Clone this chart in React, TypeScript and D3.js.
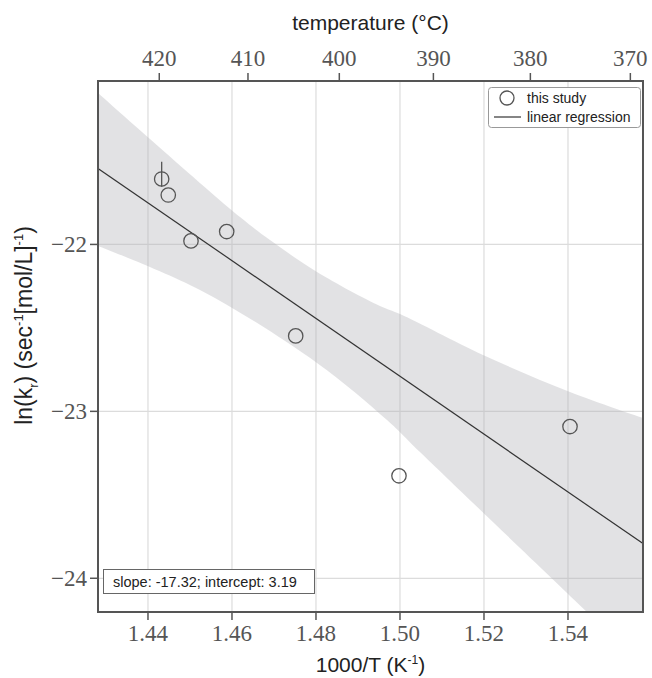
import React from "react";
import * as d3 from "d3";

// ---- data ----
const invT = [1.44326, 1.44483, 1.45024, 1.45874, 1.47517, 1.49976, 1.54048];
const lnk = [-21.608, -21.704, -21.979, -21.923, -22.548, -23.386, -23.091];

const errX = [1.44326];
const errTop = [-21.504];
const errBottom = [-21.655];

const slope = -17.32;
const intercept = 3.19;

const bandUpperX = [1.4281, 1.46191, 1.46905, 1.48024, 1.49524, 1.5, 1.51976, 1.54048, 1.55786];
const bandUpperY = [-21.093, -21.836, -21.974, -22.165, -22.369, -22.417, -22.662, -22.884, -23.04];
const bandLowerX = [1.4281, 1.45238, 1.48024, 1.49691, 1.50476, 1.54452, 1.55786];
const bandLowerY = [-22.009, -22.273, -22.71, -23.052, -23.244, -24.202, -24.526];

const xTicks = [1.44, 1.46, 1.48, 1.5, 1.52, 1.54];
const yTicks = [-22, -23, -24];
const tempTicks = [420, 410, 400, 390, 380, 370];

const xDomain = [1.4281, 1.55786];
const yDomain = [-21.021, -24.202];

export default function App() {
  const W = 652, H = 678;
  const L = 98, R = 643, T = 81, B = 612;
  const x = d3.scaleLinear().domain(xDomain).range([L, R]);
  const y = d3.scaleLinear().domain(yDomain).range([T, B]);

  const upper = bandUpperX.map((v, i) => [x(v), y(bandUpperY[i])] as [number, number]);
  const lower = bandLowerX.map((v, i) => [x(v), y(bandLowerY[i])] as [number, number]).reverse();
  const lineGen = d3.line().curve(d3.curveCatmullRom.alpha(0.5));
  const bandPath = (lineGen(upper) || "") + "L" + (lineGen(lower) || "").slice(1) + "Z";

  const regPath = d3.line()(
    xDomain.map((v) => [x(v), y(intercept + slope * v)] as [number, number])
  ) || "";

  const serif = "'Liberation Serif', 'Times New Roman', serif";
  const sans = "'Liberation Sans', Arial, Helvetica, sans-serif";
  const axisColor = "#555";
  const tickLabelColor = "#555";

  const fmtY = (v: number) => (v < 0 ? "\u2212" + Math.abs(v) : String(v));

  return (
    <svg width={W} height={H} style={{ position: "absolute", left: 0, top: 0, background: "#fff" }}>
      <defs>
        <clipPath id="plotClip">
          <rect x={L} y={T} width={R - L} height={B - T} />
        </clipPath>
      </defs>
      <rect x={0} y={0} width={W} height={H} fill="#fff" />

      {/* gridlines */}
      {xTicks.map((t) => (
        <line key={"gx" + t} x1={x(t)} x2={x(t)} y1={T} y2={B} stroke="#dcdcdc" strokeWidth={1.2} />
      ))}
      {yTicks.map((t) => (
        <line key={"gy" + t} x1={L} x2={R} y1={y(t)} y2={y(t)} stroke="#dcdcdc" strokeWidth={1.2} />
      ))}

      {/* confidence band */}
      <g clipPath="url(#plotClip)">
        <path d={bandPath} fill="rgb(178,178,184)" fillOpacity={0.38} stroke="none" />
        <path d={regPath} fill="none" stroke="#333" strokeWidth={1.2} />
      </g>

      {/* error bar */}
      {errX.map((v, i) => (
        <line key={"e" + i} x1={x(v)} x2={x(v)} y1={y(errTop[i])} y2={y(errBottom[i])} stroke="#555" strokeWidth={1.3} />
      ))}

      {/* data points */}
      {invT.map((v, i) => (
        <circle key={"p" + i} cx={x(v)} cy={y(lnk[i])} r={7.2} fill="none" stroke="#555" strokeWidth={1.3} />
      ))}

      {/* frame */}
      <rect x={L} y={T} width={R - L} height={B - T} fill="none" stroke={axisColor} strokeWidth={2} />

      {/* bottom axis */}
      {xTicks.map((t) => (
        <g key={"bx" + t}>
          <line x1={x(t)} x2={x(t)} y1={B} y2={B + 8} stroke={axisColor} strokeWidth={1.5} />
          <text x={x(t)} y={B + 29} textAnchor="middle" fontFamily={serif} fontSize={23} fill={tickLabelColor}>
            {t.toFixed(2)}
          </text>
        </g>
      ))}
      <text x={(L + R) / 2} y={672} textAnchor="middle" fontFamily={sans} fontSize={21} fill="#222">
        1000/T (K<tspan dy={-8} fontSize={12}>-1</tspan><tspan dy={8}>)</tspan>
      </text>

      {/* top axis */}
      {tempTicks.map((t) => {
        const px = x(1000 / (t + 273.15));
        return (
          <g key={"tx" + t}>
            <line x1={px} x2={px} y1={T} y2={T - 8} stroke={axisColor} strokeWidth={1.5} />
            <text x={px} y={T - 15} textAnchor="middle" fontFamily={serif} fontSize={23} fill={tickLabelColor}>
              {t}
            </text>
          </g>
        );
      })}
      <text x={(L + R) / 2} y={30} textAnchor="middle" fontFamily={sans} fontSize={21} fill="#222">
        temperature (°C)
      </text>

      {/* left axis */}
      {yTicks.map((t) => (
        <g key={"ly" + t}>
          <line x1={L} x2={L - 8} y1={y(t)} y2={y(t)} stroke={axisColor} strokeWidth={1.5} />
          <text x={L - 11} y={y(t) + 8} textAnchor="end" fontFamily={serif} fontSize={23} fill={tickLabelColor}>
            {fmtY(t)}
          </text>
        </g>
      ))}
      <text
        transform={`translate(32, ${(T + B) / 2 - 21}) rotate(-90)`}
        textAnchor="middle"
        fontFamily={sans}
        fontSize={23}
        fill="#222"
      >
        ln(k<tspan dy={6} fontSize={13}>r</tspan><tspan dy={-6}>) (sec</tspan>
        <tspan dy={-9} fontSize={13}>-1</tspan>
        <tspan dy={9}>[mol/L]</tspan>
        <tspan dy={-9} fontSize={13}>-1</tspan>
        <tspan dy={9}>)</tspan>
      </text>

      {/* legend */}
      <g>
        <rect x={488.5} y={87.5} width={152} height={40} rx={3} fill="#fff" stroke="#999" strokeWidth={1} />
        <circle cx={507} cy={98} r={7} fill="none" stroke="#555" strokeWidth={1.3} />
        <text x={527} y={103} fontFamily={sans} fontSize={14} fill="#222">this study</text>
        <line x1={494} x2={521} y1={117} y2={117} stroke="#333" strokeWidth={1.2} />
        <text x={527} y={121.5} fontFamily={sans} fontSize={14} fill="#222">linear regression</text>
      </g>

      {/* slope box */}
      <g>
        <rect x={103.5} y={569.5} width={211} height={24} fill="#fff" stroke="#666" strokeWidth={1} />
        <text x={113} y={586.5} fontFamily={sans} fontSize={14.5} fill="#222">
          slope: -17.32; intercept: 3.19
        </text>
      </g>
    </svg>
  );
}
